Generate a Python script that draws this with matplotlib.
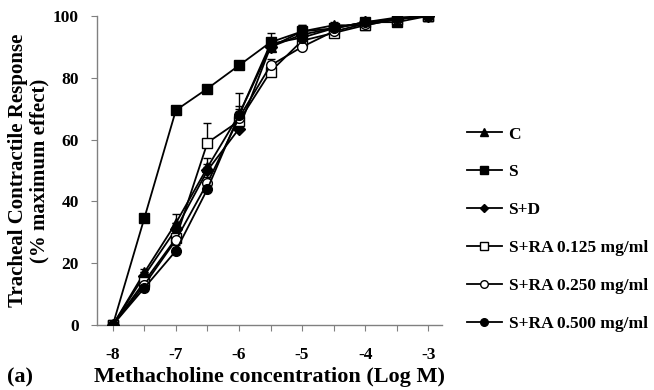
import matplotlib
matplotlib.use("Agg")
import matplotlib.pyplot as plt
import numpy as np

log_conc = [-8, -7.5, -7, -6.5, -6, -5.5, -5, -4.5, -4, -3.5, -3]
x_tick_labels = ["-8", "", "-7", "", "-6", "", "-5", "", "-4", "", "-3"]
y_ticks = [0, 20, 40, 60, 80, 100]

series_names = ["C", "S", "S+D", "S+RA 0.125 mg/ml", "S+RA 0.250 mg/ml", "S+RA 0.500 mg/ml"]
resp_C = [0, 17, 33, 51, 68, 90, 95, 97, 97, 99, 100]
resp_S = [0, 34.6, 69.5, 76.5, 84, 91.5, 95, 96, 98, 98, 100]
resp_SD = [0, 16, 31, 50, 63.5, 90, 94, 96, 98, 99, 100]
resp_RA125 = [0, 14, 28, 59, 66, 82, 92, 94.5, 97, 99, 100]
resp_RA250 = [0, 13, 27.5, 46, 67, 84, 90, 95, 97.5, 99, 100]
resp_RA500 = [0, 12, 24, 44, 68, 91, 93, 96, 98, 99.5, 100]

err_C = [0, 1, 3, 3, 7, 2, 2, 1, 1, 0.5, 0]
err_S = [0, 1, 1, 1, 1.5, 3, 2, 1, 1, 1, 0]
err_SD = [0, 1, 2, 2, 2, 2, 2, 1, 1, 0.5, 0]
err_RA125 = [0, 1, 2, 6.5, 3, 2, 2, 1, 1, 0.5, 0]
err_RA250 = [0, 1, 2, 2, 3, 2, 2, 1, 1, 0.5, 0]
err_RA500 = [0, 1, 2, 2, 3, 2, 2, 1, 1, 0.5, 0]

plt.rcParams['font.family'] = ['Liberation Serif', 'DejaVu Serif']
plt.rcParams['font.weight'] = 'bold'

fig = plt.figure(figsize=(6.54, 3.9), dpi=100)
ax = fig.add_axes([0.148, 0.1667, 0.528, 0.7923])

styles = [
    dict(marker='^', mfc='black', ms=7),
    dict(marker='s', mfc='black', ms=7),
    dict(marker='D', mfc='black', ms=6),
    dict(marker='s', mfc='white', ms=7),
    dict(marker='o', mfc='white', ms=7),
    dict(marker='o', mfc='black', ms=7),
]
all_resp = [resp_C, resp_S, resp_SD, resp_RA125, resp_RA250, resp_RA500]
all_err = [err_C, err_S, err_SD, err_RA125, err_RA250, err_RA500]

for name, resp, err, st in zip(series_names, all_resp, all_err, styles):
    ax.errorbar(log_conc, resp, yerr=[np.zeros(len(err)), err], fmt='none',
                ecolor='black', elinewidth=1, capsize=3, capthick=1, zorder=2)
    ax.plot(log_conc, resp, color='black', lw=1.3, marker=st['marker'],
            mfc=st['mfc'], mec='black', ms=st['ms'], mew=1, zorder=3)

ax.set_xlim(-8.254, -2.78)
ax.set_ylim(0, 100)
ax.set_xticks(log_conc)
ax.set_xticklabels(x_tick_labels)
ax.set_yticks(y_ticks)
ax.set_yticklabels([str(v) for v in y_ticks])
for sp in ['top', 'right']:
    ax.spines[sp].set_visible(False)
for sp in ['left', 'bottom']:
    ax.spines[sp].set_color('#808080')
    ax.spines[sp].set_linewidth(1)
ax.tick_params(axis='both', direction='out', length=4, color='#808080', labelsize=12.5)
ax.tick_params(axis='x', pad=12)
ax.tick_params(axis='y', pad=9)
for lab in ax.get_xticklabels() + ax.get_yticklabels():
    lab.set_fontweight('bold')

ax.set_xlabel("Methacholine concentration (Log M)", fontsize=16, fontweight='bold', labelpad=3)
ax.set_ylabel("Tracheal Contractile Response\n(% maximum effect)", fontsize=15,
              fontweight='bold', labelpad=2, linespacing=1.1)
fig.text(0.01, 0.02, "(a)", fontsize=16, fontweight='bold')

leg_handles = []
for st, name in zip(styles, series_names):
    h, = ax.plot([], [], color='black', lw=1.3, marker=st['marker'], mfc=st['mfc'],
                 mec='black', ms=st['ms'] - 1.5, mew=1, label=name)
    leg_handles.append(h)
fig.legend(handles=leg_handles, loc='upper left', bbox_to_anchor=(0.69, 0.716),
           frameon=False, labelspacing=1.25, handlelength=2.0,
           handletextpad=0.4, prop={'weight': 'bold', 'size': 12.5})

fig.savefig("out.png", dpi=100)
